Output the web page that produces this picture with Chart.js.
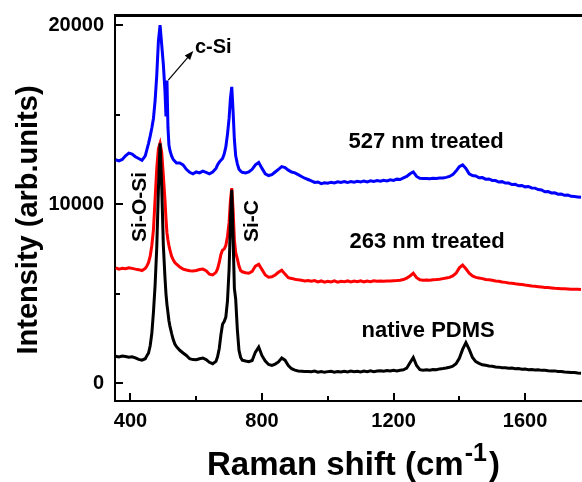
<!DOCTYPE html>
<html>
<head>
<meta charset="utf-8">
<script src="https://cdn.jsdelivr.net/npm/chart.js@4"></script>
<style>
  html, body { margin: 0; padding: 0; background: #fff; overflow: hidden; }
  #wrap { width: 582px; height: 482px; }
</style>
</head>
<body>
<div id="wrap"><canvas id="c" width="582" height="482"></canvas></div>
<script>
// ---------- data ----------
const ramanShift = [
  355,365,375,385,395,405,415,425,435,445,
  450,455,460,465,470,475,480,485,490,495,500,505,508,511,514,517,520,525,530,535,540,
  550,560,570,580,590,600,610,620,630,640,650,660,
  665,670,675,680,685,690,695,700,704,708,712,716,720,725,730,735,740,
  750,760,770,780,790,800,810,820,830,840,
  850,860,870,880,890,900,910,920,930,940,
  950,960,970,980,990,1000,1010,1020,1030,1040,
  1050,1060,1070,1080,1090,1100,1110,1120,1130,1140,
  1150,1160,1170,1180,1190,1200,1210,1220,1230,1240,
  1250,1260,1270,1280,1290,1300,1310,1320,1330,1340,
  1350,1360,1370,1380,1390,1400,1410,1420,1430,1440,
  1450,1460,1470,1480,1490,1500,1510,1520,1530,1540,
  1550,1560,1570,1580,1590,1600,1610,1620,1630,1640,
  1650,1660,1670,1680,1690,1700,1710,1720,1730,1740,
  1750,1760,1770
];

const nativePDMS = [
  1520,1480,1530,1500,1460,1490,1430,1340,1300,1380,
  1550,1700,2100,2800,4000,5500,7600,10800,13400,11000,7700,5900,5000,4400,3950,3500,3200,2800,2450,2200,2050,
  1850,1700,1560,1380,1330,1320,1380,1420,1330,1180,1100,1230,
  1500,1950,2700,3300,3450,3700,4600,6400,9000,10800,8200,5300,4700,3000,1850,1450,1300,
  1250,1210,1280,1750,2030,1550,1250,1060,1010,1080,
  1200,1420,1300,1000,820,740,700,680,660,670,
  650,690,630,670,620,660,680,630,670,640,
  680,640,690,650,680,640,690,660,700,660,
  690,710,680,720,690,730,700,740,760,850,
  1150,1450,1000,770,740,760,740,780,760,810,
  830,860,900,960,1100,1400,1900,2280,1900,1450,
  1220,1120,1040,1010,970,960,920,910,880,880,
  850,860,820,830,790,800,770,780,750,760,
  730,740,710,700,700,670,670,640,630,610,
  610,580,570
];

const treated263 = [
  6450,6380,6430,6400,6450,6420,6380,6350,6300,6420,
  6550,6750,7100,7700,8600,10300,12000,13100,13400,12900,11600,10200,9200,8400,8000,7700,7450,7100,6900,6750,6650,
  6500,6380,6330,6290,6270,6300,6360,6380,6290,6100,6060,6200,
  6400,6750,7200,7450,7500,7700,8200,9000,10200,10900,9700,8000,7300,6950,6550,6300,6230,
  6180,6150,6250,6550,6650,6350,6050,5930,5950,6050,
  6200,6320,6100,5900,5860,5810,5780,5760,5720,5740,
  5700,5740,5670,5720,5650,5700,5660,5720,5650,5700,
  5670,5720,5660,5710,5680,5730,5670,5710,5680,5730,
  5700,5720,5700,5720,5710,5730,5740,5760,5800,5880,
  6000,6150,5900,5780,5760,5770,5760,5790,5800,5820,
  5850,5880,5920,6000,6150,6450,6600,6400,6150,6000,
  5920,5880,5850,5800,5780,5760,5720,5700,5660,5640,
  5610,5590,5560,5540,5520,5490,5470,5440,5420,5400,
  5380,5360,5350,5330,5310,5300,5290,5280,5270,5260,
  5250,5250,5240
];

const treated527 = [
  12480,12420,12500,12700,12850,12800,12650,12550,12450,12700,
  13050,13400,13800,14250,14800,15800,17200,19100,20000,18900,17800,16300,14900,16900,14300,13300,13000,12700,12500,12400,12300,
  12300,12200,11950,11780,11700,11800,11750,11850,11780,11700,11800,12000,
  12200,12350,12450,12550,12800,13200,13900,14800,15900,16550,15200,13600,12700,12250,11950,11850,11780,
  11750,11800,11950,12200,12330,12000,11700,11600,11650,11800,
  11950,12100,12050,11900,11800,11750,11650,11550,11450,11380,
  11300,11220,11240,11150,11200,11170,11230,11190,11250,11210,
  11260,11210,11270,11230,11280,11240,11300,11250,11310,11270,
  11320,11280,11340,11300,11360,11330,11400,11380,11470,11550,
  11700,11800,11550,11450,11430,11440,11420,11450,11440,11460,
  11470,11500,11550,11650,11850,12100,12200,12000,11700,11600,
  11580,11480,11490,11400,11410,11330,11320,11240,11260,11180,
  11180,11100,11110,11030,11050,10970,10990,10910,10900,10820,
  10800,10700,10710,10630,10640,10560,10570,10500,10510,10440,
  10430,10410,10390
];

const xTicks = [400, 800, 1200, 1600];
const xMinorTicks = [600, 1000, 1400];
const yTicks = [0, 10000, 20000];
const yMinorTicks = [5000, 15000];

// ---------- helpers ----------
const toPoints = (ys) => ramanShift.map((x, i) => ({ x: x, y: ys[i] }));
const FONT = '"Liberation Sans", Arial, Helvetica, sans-serif';

const decor = {
  id: 'decor',
  afterDraw(chart) {
    const { ctx, chartArea: a, scales: { x, y } } = chart;
    ctx.save();
    ctx.strokeStyle = '#000';
    ctx.fillStyle = '#000';
    const seg = (x1, y1, x2, y2, w) => {
      ctx.lineWidth = w;
      ctx.beginPath(); ctx.moveTo(x1, y1); ctx.lineTo(x2, y2); ctx.stroke();
    };
    // top frame line
    seg(a.left - 1, a.top + 0.5, chart.width, a.top + 0.5, 3);
    // inward ticks
    xTicks.forEach(v => { const p = Math.round(x.getPixelForValue(v)); seg(p, a.bottom, p, a.bottom - 8, 2); });
    xMinorTicks.forEach(v => { const p = Math.round(x.getPixelForValue(v)); seg(p, a.bottom, p, a.bottom - 5, 2); });
    yTicks.forEach(v => { const p = Math.round(y.getPixelForValue(v)); seg(a.left, p, a.left + 8, p, 2); });
    yMinorTicks.forEach(v => { const p = Math.round(y.getPixelForValue(v)); seg(a.left, p, a.left + 5, p, 2); });

    // curve labels
    ctx.textAlign = 'center';
    ctx.textBaseline = 'alphabetic';
    ctx.font = 'bold 22px ' + FONT;
    [['527 nm treated', 1299, 13140], ['263 nm treated', 1302, 7560], ['native PDMS', 1305, 2595]]
      .forEach(([t, vx, vy]) => ctx.fillText(t, x.getPixelForValue(vx), y.getPixelForValue(vy)));

    // c-Si label and arrow
    ctx.font = 'bold 20px ' + FONT;
    ctx.textAlign = 'left';
    ctx.fillText('c-Si', x.getPixelForValue(596), y.getPixelForValue(18420));
    const x1 = x.getPixelForValue(515), y1 = y.getPixelForValue(16930);
    const x2 = x.getPixelForValue(591), y2 = y.getPixelForValue(18550);
    const ang = Math.atan2(y2 - y1, x2 - x1);
    seg(x1, y1, x2 - 6 * Math.cos(ang), y2 - 6 * Math.sin(ang), 1.2);
    ctx.beginPath();
    ctx.moveTo(x2, y2);
    ctx.lineTo(x2 - 9 * Math.cos(ang) + 3.5 * Math.sin(ang), y2 - 9 * Math.sin(ang) - 3.5 * Math.cos(ang));
    ctx.lineTo(x2 - 9 * Math.cos(ang) - 3.5 * Math.sin(ang), y2 - 9 * Math.sin(ang) + 3.5 * Math.cos(ang));
    ctx.closePath();
    ctx.fill();

    // rotated peak labels
    ctx.font = 'bold 21px ' + FONT;
    ctx.textAlign = 'center';
    ctx.textBaseline = 'middle';
    [['Si-O-Si', 429, 9850], ['Si-C', 771, 9065]].forEach(([t, vx, vy]) => {
      ctx.save();
      ctx.translate(x.getPixelForValue(vx), y.getPixelForValue(vy));
      ctx.rotate(-Math.PI / 2);
      ctx.fillText(t, 0, 0);
      ctx.restore();
    });

    // y axis title
    ctx.save();
    ctx.font = 'bold 29px ' + FONT;
    ctx.textAlign = 'center';
    ctx.textBaseline = 'alphabetic';
    ctx.translate(37, 220);
    ctx.rotate(-Math.PI / 2);
    ctx.fillText('Intensity (arb.units)', 0, 0);
    ctx.restore();

    // x axis title with superscript
    ctx.textAlign = 'left';
    ctx.textBaseline = 'alphabetic';
    ctx.font = 'bold 33px ' + FONT;
    const main = 'Raman shift (cm';
    let tx = 207;
    ctx.fillText(main, tx, 475);
    tx += ctx.measureText(main).width + 1;
    ctx.font = 'bold 25px ' + FONT;
    ctx.fillText('-1', tx, 461);
    tx += ctx.measureText('-1').width + 2;
    ctx.font = 'bold 33px ' + FONT;
    ctx.fillText(')', tx, 475);
    ctx.restore();
  }
};

const zeroPad = (s) => { s.paddingLeft = 0; s.paddingRight = 0; s.paddingTop = 0; s.paddingBottom = 0; };

new Chart(document.getElementById('c'), {
  type: 'line',
  data: {
    datasets: [
      { label: 'native PDMS', data: toPoints(nativePDMS), borderColor: '#000000', borderWidth: 3 },
      { label: '263 nm treated', data: toPoints(treated263), borderColor: '#ff0000', borderWidth: 3 },
      { label: '527 nm treated', data: toPoints(treated527), borderColor: '#0000ff', borderWidth: 3 }
    ]
  },
  options: {
    responsive: false,
    animation: false,
    devicePixelRatio: 1,
    elements: { point: { radius: 0 }, line: { tension: 0, fill: false } },
    layout: { padding: { top: 15, left: 0, right: 0, bottom: 0 } },
    plugins: { legend: { display: false }, tooltip: { enabled: false }, title: { display: false } },
    scales: {
      x: {
        type: 'linear',
        min: 353, max: 1773,
        grid: { display: false, drawTicks: false },
        border: { display: true, color: '#000', width: 2 },
        afterBuildTicks: (s) => { s.ticks = xTicks.map(v => ({ value: v })); },
        afterFit: (s) => { s.height = 81; zeroPad(s); },
        ticks: {
          padding: 8,
          color: '#000',
          maxRotation: 0,
          autoSkip: false,
          font: { family: FONT, weight: 'bold', size: 20 },
          callback: (v) => String(v)
        }
      },
      y: {
        type: 'linear',
        min: -980, max: 20560,
        grid: { display: false, drawTicks: false },
        border: { display: true, color: '#000', width: 2 },
        afterBuildTicks: (s) => { s.ticks = yTicks.map(v => ({ value: v })); },
        afterFit: (s) => { s.width = 115; zeroPad(s); },
        ticks: {
          padding: 11,
          color: '#000',
          autoSkip: false,
          font: { family: FONT, weight: 'bold', size: 20 },
          callback: (v) => String(v)
        }
      }
    }
  },
  plugins: [decor]
});
</script>
</body>
</html>
